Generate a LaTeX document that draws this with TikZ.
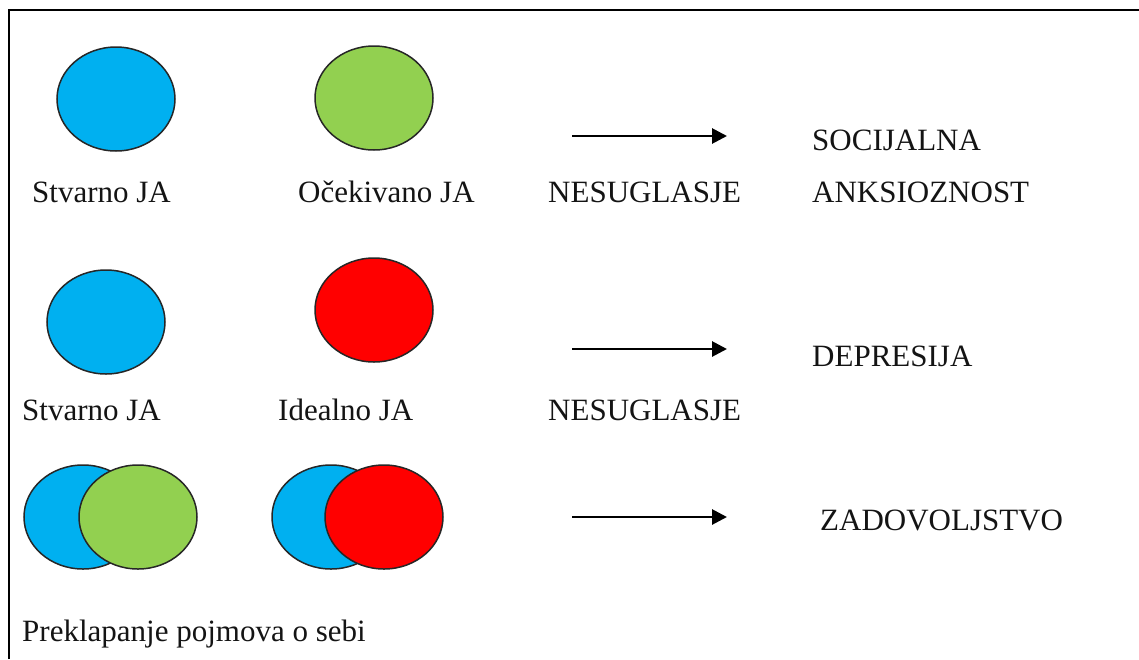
\documentclass[tikz,border=0pt]{standalone}
\usepackage{fontspec}
\setmainfont{Liberation Serif}
\usetikzlibrary{shapes.geometric,arrows.meta}
\definecolor{cblue}{RGB}{0,176,240}
\definecolor{cgreen}{RGB}{146,208,80}
\definecolor{cred}{RGB}{255,0,0}
\tikzset{
  blob/.style={ellipse, draw=black!85, line width=1.5pt, minimum width=118pt, minimum height=104pt, inner sep=0pt},
  lbl/.style={anchor=base west, inner sep=0pt, font=\fontsize{31pt}{36pt}\selectfont, text=black!92},
  arr/.style={line width=2.8pt, -{Triangle[length=15pt,width=15pt]}},
}
\begin{document}
\begin{tikzpicture}[x=1pt,y=-1pt]
\useasboundingbox (0,0) rectangle (1139,659);
\draw[line width=2.2pt, black] (9,659) -- (9,10) -- (1139,10);
% Row 1
\node[blob, fill=cblue] (b1) at (116,99) {};
\node[blob, fill=cgreen] (g1) at (374,98) {};
\node[lbl] (t1) at (32,202) {Stvarno JA};
\node[lbl] (t2) at (298,202) {Očekivano JA};
\node[lbl] (t3) at (548,202) {NESUGLASJE};
\node[lbl] (t4) at (812,150) {SOCIJALNA};
\node[lbl] (t5) at (812,202) {ANKSIOZNOST};
\coordinate (a1s) at (572,136);
\coordinate (a1e) at (727,136);
\draw[arr] (a1s) -- (a1e);
% Row 2
\node[blob, fill=cblue] (b2) at (106,322) {};
\node[blob, fill=cred] (r2) at (374,310) {};
\node[lbl] (t6) at (22,420) {Stvarno JA};
\node[lbl] (t7) at (278,420) {Idealno JA};
\node[lbl] (t8) at (548,420) {NESUGLASJE};
\node[lbl] (t9) at (812,366) {DEPRESIJA};
\coordinate (a2s) at (572,349);
\coordinate (a2e) at (727,349);
\draw[arr] (a2s) -- (a2e);
% Row 3
\node[blob, fill=cblue] (b3) at (83,517) {};
\node[blob, fill=cgreen] (g3) at (138,517) {};
\node[blob, fill=cblue] (b4) at (331,517) {};
\node[blob, fill=cred] (r4) at (384,517) {};
\node[lbl] (t10) at (820,530) {ZADOVOLJSTVO};
\node[lbl] (t11) at (22,641) {Preklapanje pojmova o sebi};
\coordinate (a3s) at (572,517);
\coordinate (a3e) at (727,517);
\draw[arr] (a3s) -- (a3e);
\end{tikzpicture}
\end{document}
